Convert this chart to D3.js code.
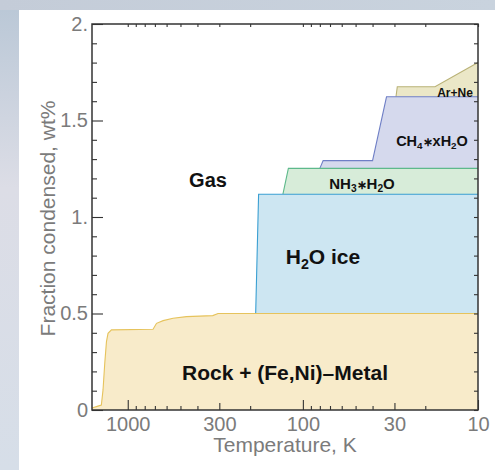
<!DOCTYPE html>
<html><head><meta charset="utf-8">
<script src="https://cdn.jsdelivr.net/npm/d3@7"></script>
<style>body{margin:0;background:#fff;} svg{display:block;font-family:"Liberation Sans",Arial,Helvetica,sans-serif;}</style>
</head><body><svg id="c" width="495" height="470"></svg>
<script>
// ---- data ----
const rockT = [1600, 1480, 1415, 1384, 1353, 1323, 1296, 1239, 717, 685, 628, 551, 462, 327, 305, 10];
const rockV = [0.01, 0.02, 0.026, 0.104, 0.242, 0.354, 0.397, 0.415, 0.418, 0.449, 0.463, 0.475, 0.484, 0.489, 0.50, 0.50];
const iceT = [186, 179, 10];
const iceV = [0.50, 1.118, 1.118];
const nh3T = [130, 121, 10];
const nh3V = [1.118, 1.252, 1.252];
const ch4T = [80, 76.6, 40, 33.3, 10];
const ch4V = [1.252, 1.292, 1.292, 1.623, 1.623];
const arT = [29.4, 28.9, 17.6, 10];
const arV = [1.623, 1.675, 1.675, 1.80];

const xLongTicks = [1000, 100, 10];
const xMidTicks = [300, 30];
const xMinorTicks = [900, 800, 700, 600, 500, 400, 200, 90, 80, 70, 60, 50, 40, 20];
const xTickLabels = [1000, 300, 100, 30, 10];
const yMajorTicks = [0, 0.5, 1, 1.5, 2];
const yTickLabels = ["0", "0.5", "1.", "1.5", "2."];
const yMinorTicks = [0.1,0.2,0.3,0.4,0.6,0.7,0.8,0.9,1.1,1.2,1.3,1.4,1.6,1.7,1.8,1.9];

const svg = d3.select("#c");
const L = 92, R = 478, T = 24, B = 410;
const x = d3.scaleLog().domain([1600, 10]).range([L, R]);
const y = d3.scaleLinear().domain([0, 2]).range([B, T]);

// background
const defs = svg.append("defs");
const g1 = defs.append("linearGradient").attr("id","bg").attr("x1",0).attr("y1",0).attr("x2",0).attr("y2",1);
g1.append("stop").attr("offset","0%").attr("stop-color","#b9c7d6");
g1.append("stop").attr("offset","40%").attr("stop-color","#dcdde6");
g1.append("stop").attr("offset","100%").attr("stop-color","#d6dee8");
const g2 = defs.append("linearGradient").attr("id","bgt").attr("x1",0).attr("y1",0).attr("x2",1).attr("y2",0);
g2.append("stop").attr("offset","0%").attr("stop-color","#c4ccd8");
g2.append("stop").attr("offset","100%").attr("stop-color","#c9d3de");
svg.append("rect").attr("width",495).attr("height",470).attr("fill","url(#bg)");
svg.append("rect").attr("width",495).attr("height",10).attr("fill","url(#bgt)");
svg.append("rect").attr("x",19).attr("y",10).attr("width",476).attr("height",460).attr("fill","#fff");

const layers = [
  {T: arT, V: arV, fill: "#ebe7c7", stroke: "#b9b277"},
  {T: ch4T, V: ch4V, fill: "#d5d9ed", stroke: "#6f7fc6"},
  {T: nh3T, V: nh3V, fill: "#d7ecd9", stroke: "#5db98b"},
  {T: iceT, V: iceV, fill: "#cde6f2", stroke: "#3a9fd2"},
  {T: rockT, V: rockV, fill: "#f8ebca", stroke: "#e6c35c"}
];
const area = d3.area().x(d => x(d[0])).y0(y(0)).y1(d => y(d[1]));
const line = d3.line().x(d => x(d[0])).y(d => y(d[1]));
layers.forEach(l => {
  const pts = l.T.map((t, i) => [t, l.V[i]]);
  svg.append("path").attr("d", area(pts)).attr("fill", l.fill);
  svg.append("path").attr("d", line(pts)).attr("fill", "none").attr("stroke", l.stroke).attr("stroke-width", 1.1);
});

// axes
const tickCol = "#333", labCol = "#7b7b7b";
function styleAxis(g) {
  g.select(".domain").remove();
  g.selectAll(".tick line").attr("stroke", tickCol).attr("stroke-width", 1.1);
  g.selectAll(".tick text").attr("fill", labCol).style("font-size", "20px").attr("font-family", null);
}
// bottom
svg.append("g").attr("transform", `translate(0,${B})`)
  .call(d3.axisBottom(x).tickValues(xTickLabels).tickSize(0).tickPadding(7).tickFormat(d3.format("d"))).call(styleAxis);
svg.append("g").attr("transform", `translate(0,${B})`)
  .call(d3.axisBottom(x).tickValues(xLongTicks).tickSize(-10).tickFormat("")).call(styleAxis);
svg.append("g").attr("transform", `translate(0,${B})`)
  .call(d3.axisBottom(x).tickValues(xMidTicks).tickSize(-7).tickFormat("")).call(styleAxis);
svg.append("g").attr("transform", `translate(0,${B})`)
  .call(d3.axisBottom(x).tickValues(xMinorTicks).tickSize(-4).tickFormat("")).call(styleAxis);
// top
svg.append("g").attr("transform", `translate(0,${T})`)
  .call(d3.axisTop(x).tickValues(xLongTicks.concat(xMidTicks, xMinorTicks)).tickSize(-3).tickFormat("")).call(styleAxis);
// left
svg.append("g").attr("transform", `translate(${L},0)`)
  .call(d3.axisLeft(y).tickValues(yMajorTicks).tickSize(-11).tickPadding(4).tickFormat((d, i) => yTickLabels[i])).call(styleAxis);
svg.append("g").attr("transform", `translate(${L},0)`)
  .call(d3.axisLeft(y).tickValues(yMinorTicks).tickSize(-5).tickFormat("")).call(styleAxis);
// right
svg.append("g").attr("transform", `translate(${R},0)`)
  .call(d3.axisRight(y).tickValues(yMajorTicks.concat(yMinorTicks)).tickSize(-4).tickFormat("")).call(styleAxis);

// frame
svg.append("rect").attr("x", L).attr("y", T).attr("width", R - L).attr("height", B - T)
  .attr("fill", "none").attr("stroke", "#333").attr("stroke-width", 1.5);

// axis titles
svg.append("text").attr("x", (L + R) / 2).attr("y", 452).attr("text-anchor", "middle")
  .attr("fill", labCol).style("font-size", "21px").text("Temperature, K");
svg.append("text").attr("transform", `translate(55,${(100+337)/2}) rotate(-90)`).attr("text-anchor", "middle")
  .attr("fill", labCol).style("font-size", "21px").text("Fraction condensed, wt%");

// region labels
function rich(xp, yp, size, segs) {
  const t = svg.append("text").attr("x", xp).attr("y", yp).attr("text-anchor", "middle")
    .attr("font-weight", "bold").attr("fill", "#111").style("font-size", size + "px");
  const off = size * 0.22;
  let shift = 0;
  segs.forEach(s => {
    const target = s.sub ? off : 0;
    const ts = t.append("tspan").attr("dy", target - shift).text(s.t);
    if (s.sub) ts.style("font-size", (size * 0.68) + "px");
    if (s.small) ts.style("font-size", (size * 0.8) + "px");
    shift = target;
  });
}
rich(208, 187, 20, [{t: "Gas"}]);
rich(323, 264, 21, [{t: "H"}, {t: "2", sub: true}, {t: "O ice"}]);
rich(285, 380, 21, [{t: "Rock + (Fe,Ni)\u2013Metal"}]);
rich(362, 189, 15, [{t: "NH"}, {t: "3", sub: true}, {t: "\u2217", small: true}, {t: "H"}, {t: "2", sub: true}, {t: "O"}]);
rich(432, 146, 14.5, [{t: "CH"}, {t: "4", sub: true}, {t: "\u2217", small: true}, {t: "xH"}, {t: "2", sub: true}, {t: "O"}]);
rich(455, 97, 12, [{t: "Ar+Ne"}]);
</script></body></html>
